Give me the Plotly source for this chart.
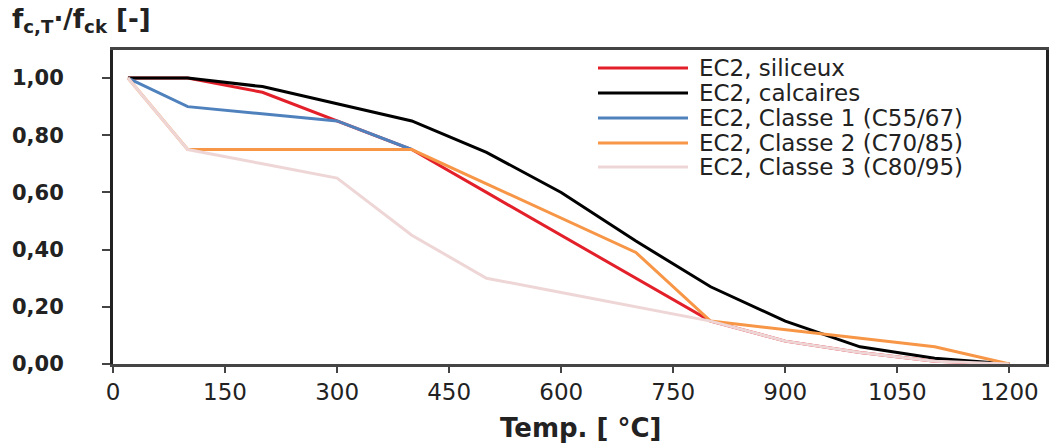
import plotly.graph_objects as go

# Temperatures (°C)
temp_ec2 = [20, 100, 200, 300, 400, 500, 600, 700, 800, 900, 1000, 1100, 1200]
siliceux = [1.00, 1.00, 0.95, 0.85, 0.75, 0.60, 0.45, 0.30, 0.15, 0.08, 0.04, 0.01, 0.00]
calcaires = [1.00, 1.00, 0.97, 0.91, 0.85, 0.74, 0.60, 0.43, 0.27, 0.15, 0.06, 0.02, 0.00]

temp_c1 = [20, 100, 300, 400]
classe1 = [1.00, 0.90, 0.85, 0.75]

temp_c2 = [20, 100, 400, 700, 800, 1100, 1200]
classe2 = [1.00, 0.75, 0.75, 0.39, 0.15, 0.06, 0.00]

temp_c3 = [20, 100, 200, 300, 400, 500, 600, 700, 800, 900, 1000, 1100, 1200]
classe3 = [1.00, 0.75, 0.70, 0.65, 0.45, 0.30, 0.25, 0.20, 0.15, 0.08, 0.04, 0.01, 0.00]

names = ["EC2, siliceux", "EC2, calcaires", "EC2, Classe 1 (C55/67)",
         "EC2, Classe 2 (C70/85)", "EC2, Classe 3 (C80/95)"]
colors = ["#e3202a", "#000000", "#4f81bd", "#f79646", "#efd6d6"]
series = [(temp_ec2, siliceux), (temp_ec2, calcaires), (temp_c1, classe1),
          (temp_c2, classe2), (temp_c3, classe3)]

x_ticks = [0, 150, 300, 450, 600, 750, 900, 1050, 1200]
y_ticks = [0.0, 0.2, 0.4, 0.6, 0.8, 1.0]
y_ticklabels = ["0,00", "0,20", "0,40", "0,60", "0,80", "1,00"]

FONT = "DejaVu Sans"

fig = go.Figure()
for (x, y), name, c in zip(series, names, colors):
    fig.add_trace(go.Scatter(x=x, y=y, mode="lines", name=name,
                             line=dict(color=c, width=3), showlegend=False))

# plot area in pixels: x 113..1046, y 50..364
W, H = 1052, 444
L, R, T, B = 113, 6, 50, 80
pw = W - L - R
ph = H - T - B

def px(xp):
    return (xp - L) / pw

def py(yp):
    return (H - B - yp) / ph

shapes = []
annotations = []
# manual legend
rows = [68, 93, 118, 143, 167]
for name, c, ry in zip(names, colors, rows):
    shapes.append(dict(type="line", xref="paper", yref="paper",
                       x0=px(598), x1=px(688), y0=py(ry), y1=py(ry),
                       line=dict(color=c, width=3)))
    annotations.append(dict(xref="paper", yref="paper", x=px(697), y=py(ry),
                            xanchor="left", yanchor="middle", showarrow=False,
                            text=name, font=dict(family=FONT, size=23, color="#222222")))

# y-axis title at top left
annotations.append(dict(xref="paper", yref="paper", x=px(10), y=py(21),
                        xanchor="left", yanchor="middle", showarrow=False,
                        text="<b>f<sub>c,T</sub>·/f<sub>ck</sub> [-]</b>",
                        font=dict(family=FONT, size=26, color="#222222")))
# x-axis title
annotations.append(dict(xref="paper", yref="paper", x=px(580), y=py(428),
                        xanchor="center", yanchor="middle", showarrow=False,
                        text="<b>Temp. [ °C]</b>",
                        font=dict(family=FONT, size=26, color="#222222")))

fig.update_layout(
    width=W, height=H,
    margin=dict(l=L, r=R, t=T, b=B),
    plot_bgcolor="white", paper_bgcolor="white",
    shapes=shapes, annotations=annotations,
    xaxis=dict(range=[0, 1249], tickvals=x_ticks, ticktext=[str(v) for v in x_ticks],
               automargin=False, mirror=True,
               showgrid=False, zeroline=False, showline=True, linecolor="#444444", linewidth=2.5,
               ticks="outside", ticklen=6, tickwidth=2, tickcolor="#444444",
               tickfont=dict(family=FONT, size=23, color="#222222")),
    yaxis=dict(range=[0, 1.098], tickvals=y_ticks, ticktext=y_ticklabels,
               automargin=False, mirror=True,
               showgrid=False, zeroline=False, showline=True, linecolor="#222222", linewidth=3,
               ticks="outside", ticklen=8, tickwidth=2, tickcolor="#444444",
               ticklabelstandoff=34,
               tickfont=dict(family=FONT, size=21, color="#222222", weight="bold")),
)

fig.write_html("out.html", config={"displayModeBar": False},
               post_script="document.body.style.margin='0';document.body.style.overflow='hidden';")
